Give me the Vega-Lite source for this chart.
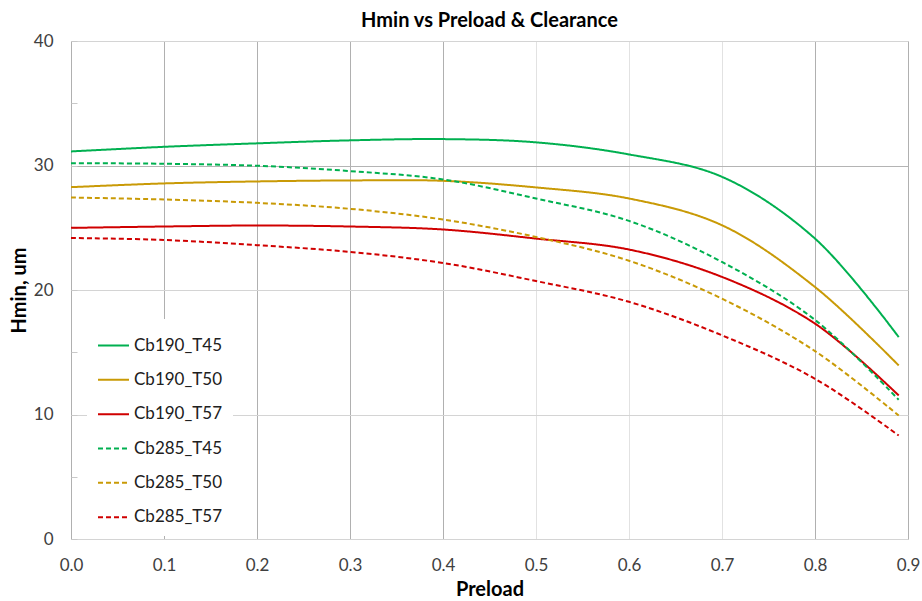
{
  "$schema": "https://vega.github.io/schema/vega-lite/v6.json",
  "autosize": {"type": "none"},
  "width": 837,
  "height": 498,
  "padding": {"left": 71, "top": 41, "right": 14, "bottom": 62},
  "background": "white",
  "title": {"text": "Hmin vs Preload & Clearance", "font": "Lato", "fontSize": 20, "fontWeight": "bold", "color": "#000000", "offset": 1},
  "config": {
    "view": {"stroke": "#c8c8c8", "strokeWidth": 1},
    "font": "Lato"
  },
  "data": {"values": [
    {"series": "Cb190_T45", "x": 0.0, "y": 31.13},
    {"series": "Cb190_T45", "x": 0.1, "y": 31.5},
    {"series": "Cb190_T45", "x": 0.2, "y": 31.78},
    {"series": "Cb190_T45", "x": 0.3, "y": 32.02},
    {"series": "Cb190_T45", "x": 0.4, "y": 32.12},
    {"series": "Cb190_T45", "x": 0.5, "y": 31.86},
    {"series": "Cb190_T45", "x": 0.6, "y": 30.89},
    {"series": "Cb190_T45", "x": 0.7, "y": 29.09},
    {"series": "Cb190_T45", "x": 0.8, "y": 24.13},
    {"series": "Cb190_T45", "x": 0.89, "y": 16.22},
    {"series": "Cb190_T50", "x": 0.0, "y": 28.26},
    {"series": "Cb190_T50", "x": 0.1, "y": 28.56},
    {"series": "Cb190_T50", "x": 0.2, "y": 28.72},
    {"series": "Cb190_T50", "x": 0.3, "y": 28.8},
    {"series": "Cb190_T50", "x": 0.4, "y": 28.77},
    {"series": "Cb190_T50", "x": 0.5, "y": 28.24},
    {"series": "Cb190_T50", "x": 0.6, "y": 27.35},
    {"series": "Cb190_T50", "x": 0.7, "y": 25.2},
    {"series": "Cb190_T50", "x": 0.8, "y": 20.24},
    {"series": "Cb190_T50", "x": 0.89, "y": 13.94},
    {"series": "Cb190_T57", "x": 0.0, "y": 24.99},
    {"series": "Cb190_T57", "x": 0.1, "y": 25.1},
    {"series": "Cb190_T57", "x": 0.2, "y": 25.18},
    {"series": "Cb190_T57", "x": 0.3, "y": 25.1},
    {"series": "Cb190_T57", "x": 0.4, "y": 24.86},
    {"series": "Cb190_T57", "x": 0.5, "y": 24.13},
    {"series": "Cb190_T57", "x": 0.6, "y": 23.25},
    {"series": "Cb190_T57", "x": 0.7, "y": 21.05},
    {"series": "Cb190_T57", "x": 0.8, "y": 17.3},
    {"series": "Cb190_T57", "x": 0.89, "y": 11.53},
    {"series": "Cb285_T45", "x": 0.0, "y": 30.19},
    {"series": "Cb285_T45", "x": 0.1, "y": 30.14},
    {"series": "Cb285_T45", "x": 0.2, "y": 29.98},
    {"series": "Cb285_T45", "x": 0.3, "y": 29.55},
    {"series": "Cb285_T45", "x": 0.4, "y": 28.88},
    {"series": "Cb285_T45", "x": 0.5, "y": 27.35},
    {"series": "Cb285_T45", "x": 0.6, "y": 25.55},
    {"series": "Cb285_T45", "x": 0.7, "y": 22.25},
    {"series": "Cb285_T45", "x": 0.8, "y": 17.6},
    {"series": "Cb285_T45", "x": 0.89, "y": 11.18},
    {"series": "Cb285_T50", "x": 0.0, "y": 27.43},
    {"series": "Cb285_T50", "x": 0.1, "y": 27.27},
    {"series": "Cb285_T50", "x": 0.2, "y": 27.0},
    {"series": "Cb285_T50", "x": 0.3, "y": 26.52},
    {"series": "Cb285_T50", "x": 0.4, "y": 25.66},
    {"series": "Cb285_T50", "x": 0.5, "y": 24.26},
    {"series": "Cb285_T50", "x": 0.6, "y": 22.35},
    {"series": "Cb285_T50", "x": 0.7, "y": 19.3},
    {"series": "Cb285_T50", "x": 0.8, "y": 15.09},
    {"series": "Cb285_T50", "x": 0.89, "y": 9.92},
    {"series": "Cb285_T57", "x": 0.0, "y": 24.18},
    {"series": "Cb285_T57", "x": 0.1, "y": 24.02},
    {"series": "Cb285_T57", "x": 0.2, "y": 23.6},
    {"series": "Cb285_T57", "x": 0.3, "y": 23.06},
    {"series": "Cb285_T57", "x": 0.4, "y": 22.17},
    {"series": "Cb285_T57", "x": 0.5, "y": 20.72},
    {"series": "Cb285_T57", "x": 0.6, "y": 19.05},
    {"series": "Cb285_T57", "x": 0.7, "y": 16.36},
    {"series": "Cb285_T57", "x": 0.8, "y": 12.87},
    {"series": "Cb285_T57", "x": 0.89, "y": 8.31}
  ]},
  "mark": {"type": "line", "interpolate": "catmull-rom", "strokeWidth": 2, "clip": true},
  "encoding": {
    "x": {
      "field": "x", "type": "quantitative",
      "scale": {"domain": [0, 0.9], "nice": false, "zero": false},
      "axis": {
        "title": "Preload", "titleFont": "Lato", "titleFontSize": 20, "titleFontWeight": "bold", "titleColor": "#000000", "titlePadding": 6,
        "values": [0, 0.1, 0.2, 0.3, 0.4, 0.5, 0.6, 0.7, 0.8, 0.9],
        "format": ".1f", "labelFont": "Lato", "labelFontSize": 17, "labelColor": "#404040", "labelPadding": 18, "labelFlush": false,
        "ticks": false, "domain": false,
        "grid": true,
        "gridColor": {"condition": {"test": "datum.value > 0.45 && datum.value < 0.75", "value": "#e2e2e2"}, "value": "#b0b0b0"},
        "gridWidth": 1
      }
    },
    "y": {
      "field": "y", "type": "quantitative",
      "scale": {"domain": [0, 40], "nice": false},
      "axis": {
        "title": "Hmin, um", "titleFont": "Lato", "titleFontSize": 20, "titleFontWeight": "bold", "titleColor": "#000000", "titlePadding": 4,
        "values": [0, 5, 10, 15, 20, 25, 30, 35, 40],
        "labelExpr": "datum.value % 10 === 0 ? datum.label : ''",
        "labelFont": "Lato", "labelFontSize": 17, "labelColor": "#404040", "labelPadding": 24, "labelFlush": false,
        "ticks": true, "tickSize": -6, "tickColor": "#c8c8c8",
        "domain": false,
        "grid": true,
        "gridColor": {"condition": {"test": "datum.value === 30", "value": "#b4b4b4"}, "value": "#d4d4d4"},
        "gridOpacity": {"condition": {"test": "datum.value % 10 !== 0", "value": 0}, "value": 1}
      }
    },
    "color": {
      "field": "series", "type": "nominal",
      "scale": {
        "domain": ["Cb190_T45", "Cb190_T50", "Cb190_T57", "Cb285_T45", "Cb285_T50", "Cb285_T57"],
        "range": ["#00B050", "#C99A06", "#D00000", "#00B050", "#C99A06", "#D00000"]
      },
      "legend": {
        "title": null, "orient": "none", "legendX": 16, "legendY": 278,
        "fillColor": "white", "padding": 10,
        "symbolType": "stroke", "symbolSize": 961, "symbolStrokeWidth": 2,
        "labelFont": "Lato", "labelFontSize": 17, "labelColor": "#202020", "labelOffset": 4,
        "rowPadding": 9.34
      }
    },
    "strokeDash": {
      "field": "series", "type": "nominal",
      "scale": {
        "domain": ["Cb190_T45", "Cb190_T50", "Cb190_T57", "Cb285_T45", "Cb285_T50", "Cb285_T57"],
        "range": [[1, 0], [1, 0], [1, 0], [5, 3], [5, 3], [5, 3]]
      },
      "legend": null
    }
  }
}
